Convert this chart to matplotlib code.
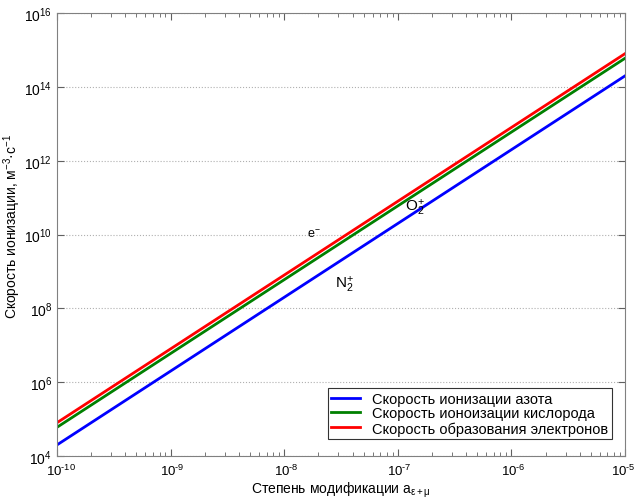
import matplotlib
matplotlib.use('Agg')
import matplotlib.pyplot as plt
from matplotlib.ticker import LogLocator, NullFormatter, NullLocator
from matplotlib.transforms import ScaledTranslation

plt.rcParams['font.family'] = ['Liberation Sans', 'DejaVu Sans']
plt.rcParams['mathtext.fontset'] = 'custom'
plt.rcParams['mathtext.rm'] = 'Liberation Sans'
plt.rcParams['mathtext.it'] = 'Liberation Sans'
plt.rcParams['mathtext.default'] = 'regular'

# values (log-log straight lines)
x = [1e-10, 1e-9, 1e-8, 1e-7, 1e-6, 1e-5]
n2_rate = [2e4, 2e6, 2e8, 2e10, 2e12, 2e14]
o2_rate = [6e4, 6e6, 6e8, 6e10, 6e12, 6e14]
e_rate = [8e4, 8e6, 8e8, 8e10, 8e12, 8e14]
labels = ['Скорость ионизации азота', 'Скорость ионоизации кислорода',
          'Скорость образования электронов']
x_exp = [-10, -9, -8, -7, -6, -5]
y_exp = [4, 6, 8, 10, 12, 14, 16]

fig = plt.figure(figsize=(6.36, 5.02), dpi=100)
ax = fig.add_axes([0.0896, 0.0896, 0.893, 0.882])

ax.plot(x, n2_rate, color='#0000ff', lw=2, label=labels[0])
ax.plot(x, o2_rate, color='#008000', lw=2, label=labels[1])
ax.plot(x, e_rate, color='#ff0000', lw=2, label=labels[2])

ax.set_xscale('log')
ax.set_yscale('log')
ax.set_xlim(1e-10, 1e-5)
ax.set_ylim(1e4, 1e16)
ax.set_xticks([10.0 ** e for e in x_exp])
# short hyphen in the exponent, as in the MATLAB original
ax.set_xticklabels(['$10^{\u2010%d}$' % abs(e) for e in x_exp])
ax.set_yticks([10.0 ** e for e in y_exp])
ax.set_yticklabels([r'$10^{%d}$' % e for e in y_exp])
ax.yaxis.set_minor_locator(NullLocator())
ax.xaxis.set_minor_locator(LogLocator(base=10, subs=range(2, 10), numticks=20))
ax.xaxis.set_minor_formatter(NullFormatter())

ax.grid(True, axis='y', which='major', linestyle=':', color='#b0b0b0', lw=0.8)
ax.tick_params(which='both', direction='in', top=True, right=True, labelsize=10,
               color='#606060')
ax.tick_params(which='major', length=5)
ax.tick_params(which='minor', length=3)
ax.tick_params(axis='x', pad=5, labelsize=9.5)
for s in ax.spines.values():
    s.set_color('#808080')

# MATLAB-style: the "10" sits near the tick, exponent hangs to the right
xlabs = ax.get_xticklabels()
for i, lab in enumerate(xlabs):
    dx = -0.14 if i == len(xlabs) - 1 else -0.105
    lab.set_ha('left')
    lab.set_transform(lab.get_transform() + ScaledTranslation(dx, 0, fig.dpi_scale_trans))

ax.text(1.6e-8, 8.6e9, r'e$^{-}$', fontsize=9)
ax.text(1.15e-7, 4.5e10, r'O$_2^{+}$', fontsize=11)
ax.text(2.8e-8, 3.6e8, r'N$_2^{+}$', fontsize=11)

ax.set_xlabel(r'Степень модификации a$_{\varepsilon+\mu}$', fontsize=10)
ax.set_ylabel(r'Скорость ионизации, м$^{-3}$·с$^{-1}$', fontsize=10)
ax.xaxis.set_label_coords(0.5, -0.054)
ax.yaxis.set_label_coords(-0.06, 0.52)

leg = ax.legend(loc='lower right', fontsize=10.5, frameon=True, fancybox=False,
                edgecolor='black', handlelength=2.0, borderpad=0.25,
                labelspacing=0.05, borderaxespad=0,
                bbox_to_anchor=(0.977, 0.038))
leg.get_frame().set_linewidth(0.8)

fig.savefig('out.png', dpi=100)
